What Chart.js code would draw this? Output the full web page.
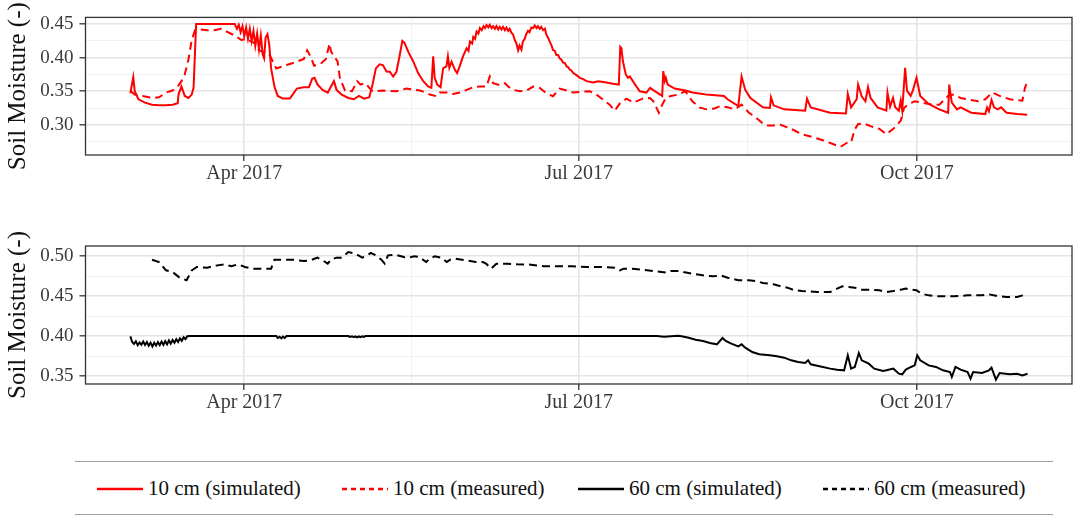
<!DOCTYPE html>
<html>
<head>
<meta charset="utf-8">
<title>Soil Moisture 2017</title>
<script src="https://cdn.jsdelivr.net/npm/chart.js@4.4.0/dist/chart.umd.min.js"></script>
<style>
  html, body { margin: 0; padding: 0; background: #fff; }
  #page { position: relative; width: 1084px; height: 521px; overflow: hidden; font-family: 'Liberation Serif', 'DejaVu Serif', serif; }
  #top { position: absolute; left: 0; top: 0; }
  #bottom { position: absolute; left: 0; top: 200px; }
  #legend { position: absolute; left: 75px; top: 461px; width: 978px; height: 52px;
            border-top: 1.5px solid #a0a0a0; border-bottom: 1.5px solid #a0a0a0; }
  .key { position: absolute; top: 24px; }
  .lab { position: absolute; top: 14px; font-size: 21px; color: #111; white-space: nowrap; }
</style>
</head>
<body>
<div id="page">
  <canvas id="top" width="1084" height="200"></canvas>
  <canvas id="bottom" width="1084" height="240"></canvas>
  <div id="legend"></div>
</div>
<script>
// x values are days of 2017 (1 Jan = 0)

// 10 cm simulated
const sim10Day = [59.0, 59.8, 60.2, 61.2, 63.0, 64.9, 66.8, 68.7, 70.5, 71.9, 72.1, 72.9, 73.8, 74.8, 75.7, 76.2, 76.9,
  87.4, 88.0, 88.5, 89.0, 89.5, 90.0, 90.5, 91.0, 91.5, 92.0, 92.5, 93.0, 93.5, 94.0, 94.5, 95.0, 95.4, 95.8, 96.3, 96.8,
  97.3, 98.2, 99.1, 100.5, 102.4, 103.3, 104.3, 106.2, 107.6, 108.5, 109.1, 109.9, 111.3, 112.7, 113.6, 114.4, 115.1,
  116.5, 118.3, 119.8, 121.2, 122.6, 124.0, 124.9, 125.8, 126.8, 127.7, 128.7, 129.6, 130.5, 131.4, 132.3, 133.0, 133.6,
  134.6, 136.0, 137.3, 138.7, 140.0, 140.9, 141.4, 141.8, 142.5, 143.4, 144.1, 145.0, 145.4, 145.8, 146.4, 147.3, 147.9,
  148.6, 149.5, 150.5, 151.0, 151.4, 152.0, 152.3, 152.8, 153.2, 153.7, 154.1, 154.6, 155.1, 155.5, 155.9, 156.4, 156.8,
  157.3, 157.7, 158.2, 158.6, 159.1, 159.5, 160.0, 160.4, 160.9, 161.3, 161.8, 162.2, 162.7, 163.1, 163.6, 164.0, 164.5,
  164.9, 165.4, 165.8, 166.3, 166.7, 167.2, 167.6, 168.1, 168.6, 169.0, 169.5, 169.9, 170.4, 170.8, 171.3, 171.8, 172.2,
  172.7, 173.1, 173.6, 174.0, 174.5, 174.9, 175.4, 175.8, 176.3, 176.7, 177.2, 177.7, 178.1, 178.6, 179.0, 179.5, 180.4,
  181.3, 182.2, 183.1, 184.9, 186.3, 188.5, 190.3, 191.9, 192.3, 192.6, 193.0, 193.8, 194.4, 194.9, 196.2, 197.6,
  199.4, 200.4, 202.3, 203.7, 204.0, 204.4, 204.7, 205.2, 207.1, 210.0, 211.9, 215.7, 220.5, 221.5, 224.4, 225.3, 226.3,
  227.7, 231.1, 233.0, 233.3, 234.0, 236.9, 242.6, 243.1, 244.1, 249.4, 253.7, 254.2, 255.1, 256.6, 257.0, 258.0, 259.0,
  259.7, 260.4, 262.3, 264.7, 265.0, 265.7, 266.5, 267.1, 268.1, 268.6, 269.0, 269.8, 270.3, 271.3, 271.9, 272.9, 273.9,
  276.2, 279.1, 281.5, 281.8, 282.5, 283.9, 284.9, 287.8, 291.6, 292.1, 292.6, 293.3, 294.0, 295.0, 295.9, 297.4, 300.3, 303.0];
const sim10 = [0.347, 0.371, 0.350, 0.338, 0.333, 0.330, 0.329, 0.329, 0.330, 0.332, 0.345, 0.357, 0.343, 0.340, 0.345, 0.355, 0.450,
  0.450, 0.443, 0.449, 0.438, 0.447, 0.432, 0.445, 0.428, 0.443, 0.425, 0.440, 0.418, 0.436, 0.412, 0.433, 0.405, 0.399, 0.430, 0.435, 0.419,
  0.384, 0.357, 0.343, 0.339, 0.339, 0.346, 0.354, 0.356, 0.356, 0.369, 0.370, 0.360, 0.352, 0.348, 0.357, 0.365, 0.352,
  0.345, 0.340, 0.338, 0.343, 0.339, 0.341, 0.360, 0.384, 0.390, 0.389, 0.3795, 0.379, 0.372, 0.379, 0.404, 0.425, 0.422,
  0.409, 0.394, 0.377, 0.365, 0.357, 0.355, 0.402, 0.370, 0.360, 0.356, 0.384, 0.387, 0.402, 0.385, 0.394, 0.382, 0.377,
  0.387, 0.402, 0.414, 0.410, 0.424, 0.421, 0.431, 0.428, 0.439, 0.436, 0.444, 0.441, 0.447, 0.444, 0.4485, 0.445, 0.449,
  0.444, 0.447, 0.443, 0.447, 0.442, 0.446, 0.442, 0.446, 0.441, 0.445, 0.440, 0.443, 0.437, 0.435, 0.426, 0.422, 0.411,
  0.418, 0.412, 0.424, 0.428, 0.435, 0.440, 0.438, 0.445, 0.444, 0.448, 0.444, 0.447, 0.443, 0.446, 0.441, 0.443, 0.434,
  0.429, 0.424, 0.418, 0.4115, 0.410, 0.404, 0.404, 0.399, 0.397, 0.393, 0.392, 0.387, 0.386, 0.382, 0.381, 0.377, 0.374,
  0.370, 0.368, 0.365, 0.363, 0.365, 0.363, 0.361, 0.360, 0.416, 0.414, 0.395, 0.375, 0.370, 0.372, 0.361, 0.350,
  0.348, 0.355, 0.348, 0.343, 0.380, 0.365, 0.370, 0.360, 0.354, 0.351, 0.348, 0.345, 0.343, 0.338, 0.328, 0.372, 0.352,
  0.340, 0.326, 0.325, 0.341, 0.329, 0.323, 0.321, 0.339, 0.326, 0.318, 0.317, 0.346, 0.326, 0.338, 0.360, 0.342, 0.335,
  0.356, 0.340, 0.326, 0.321, 0.348, 0.327, 0.340, 0.326, 0.321, 0.336, 0.321, 0.385, 0.351, 0.343, 0.351, 0.370, 0.343,
  0.331, 0.323, 0.318, 0.360, 0.333, 0.323, 0.326, 0.318, 0.316, 0.326, 0.320, 0.337, 0.326, 0.323, 0.326, 0.318, 0.316, 0.315];

// 10 cm measured
const meas10Day = [59.1, 60.2, 64.9, 66.8, 68.7, 70.5, 71.9, 72.9, 73.8, 74.8, 75.7, 76.6, 78.0, 79.9, 81.8, 83.7, 85.5,
  87.4, 89.3, 90.2, 91.2, 93.0, 94.0, 96.8, 98.7, 101.5, 104.3, 106.2, 107.1, 108.0, 109.0, 110.8, 112.2, 113.2, 113.6,
  114.8, 115.4, 116.0, 117.4, 119.3, 120.7, 121.6, 123.0, 124.0, 124.9, 127.7, 131.4, 134.1, 137.8, 139.6, 140.5, 142.3,
  143.2, 145.0, 146.8, 148.6, 150.5, 152.3, 154.1, 155.9, 156.8, 157.7, 159.5, 160.9, 161.8, 163.2, 165.0, 166.8, 168.6,
  170.4, 172.2, 174.0, 175.8, 177.7, 179.5, 181.3, 184.0, 185.8, 187.6, 189.4, 190.8, 192.2, 194.0, 195.8, 198.4, 200.4,
  201.3, 202.8, 203.7, 204.7,
  206.1, 208.0, 210.0, 211.9, 213.8, 215.7, 217.7, 219.6, 221.5, 223.4, 225.3, 227.3, 229.2, 231.1, 232.1, 234.0, 235.9,
  238.8, 241.7, 244.5, 247.4, 250.3, 252.2, 254.2, 255.1, 256.1, 257.0, 259.0, 260.9, 262.8, 264.7, 266.6, 268.6, 269.5,
  270.5, 272.4, 274.3, 277.2, 279.1, 281.5, 283.0, 284.9, 286.8, 289.7, 291.6, 293.5, 295.5, 298.3, 301.7, 302.4, 303.1];
const meas10 = [0.350, 0.345, 0.340, 0.341, 0.348, 0.351, 0.357, 0.365, 0.375, 0.397, 0.426, 0.441, 0.442, 0.441, 0.441, 0.443, 0.438,
  0.433, 0.426, 0.428, 0.426, 0.421, 0.411, 0.405, 0.384, 0.389, 0.394, 0.398, 0.411, 0.402, 0.388, 0.391, 0.398, 0.421, 0.409,
  0.399, 0.394, 0.370, 0.351, 0.350, 0.365, 0.360, 0.362, 0.355, 0.350, 0.351, 0.350, 0.354, 0.351, 0.3475, 0.345, 0.3425,
  0.348, 0.348, 0.346, 0.348, 0.352, 0.356, 0.357, 0.357, 0.372, 0.362, 0.359, 0.362, 0.357, 0.352, 0.350, 0.351, 0.357,
  0.355, 0.347, 0.3425, 0.354, 0.351, 0.348, 0.349, 0.350, 0.345, 0.3375, 0.330, 0.321, 0.332, 0.339, 0.333, 0.339, 0.340,
  0.335, 0.318, 0.330, 0.340,
  0.343, 0.345, 0.350, 0.335, 0.326, 0.323, 0.324, 0.328, 0.326, 0.323, 0.330, 0.318, 0.311, 0.302, 0.299, 0.299, 0.300,
  0.294, 0.286, 0.282, 0.277, 0.271, 0.267, 0.274, 0.274, 0.293, 0.301, 0.301, 0.297, 0.294, 0.286, 0.294, 0.306, 0.325,
  0.330, 0.335, 0.333, 0.330, 0.330, 0.343, 0.345, 0.340, 0.338, 0.335, 0.338, 0.348, 0.343, 0.338, 0.336, 0.355, 0.365];

// 60 cm simulated
const sim60Day = [59.0, 59.5, 60.0, 60.5, 61.0, 61.5, 62.0, 62.5, 63.0, 63.5, 64.0, 64.5, 65.0, 65.5, 66.0, 66.5, 67.0,
  67.5, 68.0, 68.5, 69.0, 69.5, 70.0, 70.5, 71.0, 71.5, 72.0, 72.5, 73.0, 73.5, 74.0, 74.5, 75.2, 98.7, 99.1, 99.6, 100.1,
  100.5, 101.0, 101.5, 118.3, 118.8, 119.3, 119.8, 120.2, 120.7, 121.2, 121.6, 122.1, 122.6, 123.0, 202.3, 204.2, 206.1,
  208.0, 209.0, 210.9, 212.8, 214.8, 216.7, 218.6, 220.1, 221.0, 222.5, 224.4, 225.3, 226.3, 228.2, 230.1, 233.0, 234.9,
  236.9, 238.8, 240.7, 242.6, 243.4, 244.1, 246.5, 249.4, 251.3, 253.2, 254.2, 255.1, 256.1, 257.2, 258.0, 259.9, 261.4,
  263.8, 264.7, 266.6, 268.1, 269.0, 270.0, 271.4, 272.4, 273.1, 273.9, 276.2, 278.2, 280.1, 282.0, 282.5, 283.5, 284.9,
  286.8, 287.6, 288.3, 290.7, 292.6, 293.3, 294.5, 295.5, 298.3, 300.3, 301.7, 303.1];
const sim60 = [0.3996, 0.3925, 0.3900, 0.3935, 0.3885, 0.3920, 0.3890, 0.3930, 0.3888, 0.3925, 0.3878, 0.3915, 0.3868, 0.3915, 0.3880, 0.3925, 0.3885,
  0.3930, 0.3890, 0.3935, 0.3895, 0.3945, 0.3905, 0.3950, 0.3915, 0.3960, 0.3925, 0.3970, 0.3940, 0.3985, 0.3960, 0.3998, 0.4000, 0.4000, 0.3975, 0.3990, 0.3970,
  0.3992, 0.3975, 0.4000, 0.4000, 0.3988, 0.3995, 0.3985, 0.3995, 0.3982, 0.3995, 0.3985, 0.3995, 0.3988, 0.4000, 0.4000, 0.3990, 0.3996,
  0.4003, 0.3996, 0.3979, 0.3954, 0.3938, 0.3913, 0.3896, 0.3975, 0.3938, 0.3904, 0.3871, 0.3896, 0.3854, 0.3800, 0.3771, 0.3758, 0.3746,
  0.3729, 0.3696, 0.3675, 0.3663, 0.3696, 0.3646, 0.3621, 0.3592, 0.3579, 0.3571, 0.3758, 0.3592, 0.3613, 0.3788, 0.3696, 0.3654, 0.3592,
  0.3563, 0.3571, 0.3592, 0.3529, 0.3521, 0.3580, 0.3613, 0.3633, 0.3758, 0.3696, 0.3633, 0.3613, 0.3571, 0.3550, 0.3488, 0.3613, 0.3579,
  0.3550, 0.3467, 0.3550, 0.3538, 0.3571, 0.3604, 0.3454, 0.3538, 0.3521, 0.3529, 0.3508, 0.3529];

// 60 cm measured
const meas60Day = [64.9, 66.8, 68.7, 70.5, 72.4, 74.3, 75.7, 77.1, 79.9, 82.7, 84.6, 86.5, 88.3, 90.2, 92.1, 94.9, 97.3,
  98.2, 100.5, 103.3, 106.2, 108.0, 109.9, 111.3, 112.7, 113.6, 115.1, 116.5, 118.3, 120.2, 122.1, 123.5, 124.4, 125.8,
  127.3, 128.2, 129.1, 131.0, 133.4, 134.8, 136.2, 137.6, 139.5, 140.4, 141.8, 143.7, 145.1, 146.0, 147.4, 150.2, 153.0,
  154.9, 155.8, 157.2, 158.6, 161.5, 164.3, 168.0, 171.5, 175.4, 179.2, 183.1, 186.9, 190.8, 192.2, 193.2, 195.6, 198.4,
  201.3, 204.7, 206.1, 208.5, 209.5, 211.9, 214.8, 217.7, 219.6, 221.5, 224.4, 227.3, 229.2, 231.1, 234.0, 235.9, 237.8,
  239.7, 241.7, 243.6, 246.0, 249.4, 251.3, 252.7, 254.2, 256.1, 258.0, 259.9, 262.8, 264.7, 266.6, 268.6, 270.0, 271.4,
  272.9, 274.3, 276.2, 279.1, 283.0, 286.8, 290.7, 292.6, 294.5, 297.4, 300.3, 301.7, 302.7];
const meas60 = [0.4954, 0.4925, 0.4821, 0.4800, 0.4729, 0.4696, 0.4821, 0.4863, 0.4854, 0.4883, 0.4896, 0.4871, 0.4896, 0.4863, 0.4842, 0.4842, 0.4842,
  0.4954, 0.4954, 0.4954, 0.4938, 0.4946, 0.4979, 0.4946, 0.4904, 0.4954, 0.4979, 0.4979, 0.5050, 0.5029, 0.4979, 0.5008, 0.5038, 0.5008,
  0.4954, 0.4904, 0.5008, 0.5017, 0.4988, 0.4979, 0.4996, 0.4988, 0.4925, 0.4967, 0.4996, 0.4979, 0.4925, 0.4954, 0.4967, 0.4946, 0.4925,
  0.4925, 0.4904, 0.4842, 0.4904, 0.4904, 0.4896, 0.4892, 0.4871, 0.4871, 0.4871, 0.4863, 0.4863, 0.4854, 0.4821, 0.4842, 0.4842, 0.4829,
  0.4813, 0.4792, 0.4813, 0.4813, 0.4800, 0.4779, 0.4758, 0.4746, 0.4758, 0.4729, 0.4696, 0.4696, 0.4688, 0.4663, 0.4646, 0.4621, 0.4604,
  0.4571, 0.4563, 0.4558, 0.4550, 0.4550, 0.4592, 0.4621, 0.4613, 0.4604, 0.4579, 0.4579, 0.4571, 0.4550, 0.4563, 0.4579, 0.4592, 0.4579,
  0.4571, 0.4529, 0.4508, 0.4496, 0.4496, 0.4508, 0.4508, 0.4521, 0.4504, 0.4488, 0.4488, 0.4508, 0.4538];

const seriesLabels = ['10 cm (simulated)', '10 cm (measured)', '60 cm (simulated)', '60 cm (measured)'];
const seriesColors = ['#ff0000', '#ff0000', '#000000', '#000000'];
const seriesDashed = [false, true, false, true];

const xTickDays = [90, 181, 273];
const xTickLabels = ['Apr 2017', 'Jul 2017', 'Oct 2017'];
const xMinorDays = [135.5, 227];
const topYTicks = [0.275, 0.30, 0.325, 0.35, 0.375, 0.40, 0.425, 0.45];
const bottomYTicks = [0.35, 0.375, 0.40, 0.425, 0.45, 0.475, 0.50];

Chart.defaults.font.family = "'Liberation Serif', 'DejaVu Serif', serif";

const pts = (days, vals) => days.map((d, i) => ({ x: d, y: vals[i] }));
const isMajorY = v => Math.abs(v * 20 - Math.round(v * 20)) < 1e-6;
const isMajorX = v => xTickDays.includes(v);

function dataset(i, days, vals) {
  return {
    label: seriesLabels[i],
    data: pts(days, vals),
    borderColor: seriesColors[i],
    borderWidth: 2,
    borderDash: seriesDashed[i] ? [8, 5] : [],
    pointRadius: 0,
    tension: 0
  };
}

// theme_bw style panel border
const frame = {
  id: 'frame',
  afterDraw(chart) {
    const { ctx, chartArea: a } = chart;
    ctx.save();
    ctx.strokeStyle = '#333333';
    ctx.lineWidth = 1.3;
    ctx.strokeRect(a.left, a.top, a.right - a.left, a.bottom - a.top);
    ctx.restore();
  }
};

function panel(id, sets, yMin, yMax, yTicks, padTop, xHeight) {
  return new Chart(document.getElementById(id), {
    type: 'line',
    data: { datasets: sets },
    options: {
      responsive: false,
      animation: false,
      layout: { padding: { top: padTop, right: 12, left: 0, bottom: 0 } },
      plugins: { legend: { display: false }, tooltip: { enabled: false } },
      scales: {
        x: {
          type: 'linear',
          min: 46.8,
          max: 315.2,
          afterBuildTicks: s => {
            s.ticks = xTickDays.concat(xMinorDays).sort((a, b) => a - b).map(v => ({ value: v }));
          },
          afterFit: s => { s.height = xHeight; },
          ticks: {
            autoSkip: false, maxRotation: 0, padding: 1,
            color: '#3a3a3a', font: { size: 20 },
            callback: v => { const i = xTickDays.indexOf(v); return i < 0 ? '' : xTickLabels[i]; }
          },
          grid: {
            color: c => isMajorX(c.tick.value) ? '#e4e4e4' : '#efefef',
            lineWidth: c => isMajorX(c.tick.value) ? 1.6 : 0.9,
            tickLength: 6,
            tickColor: c => isMajorX(c.tick.value) ? '#333333' : 'rgba(0,0,0,0)',
            tickWidth: 1.3
          },
          border: { display: false }
        },
        y: {
          min: yMin,
          max: yMax,
          afterBuildTicks: s => { s.ticks = yTicks.map(v => ({ value: v })); },
          afterFit: s => { s.width = 85.5; },
          ticks: {
            autoSkip: false, padding: 6,
            color: '#3a3a3a', font: { size: 19 },
            callback: v => isMajorY(v) ? v.toFixed(2) : ''
          },
          grid: {
            color: c => isMajorY(c.tick.value) ? '#e4e4e4' : '#efefef',
            lineWidth: c => isMajorY(c.tick.value) ? 1.6 : 0.9,
            tickLength: 6,
            tickColor: c => isMajorY(c.tick.value) ? '#333333' : 'rgba(0,0,0,0)',
            tickWidth: 1.3
          },
          border: { display: false },
          title: {
            display: true, text: 'Soil Moisture (-)', color: '#111',
            font: { size: 25 }, padding: { top: 3, bottom: 0 }
          }
        }
      }
    },
    plugins: [frame]
  });
}

panel('top', [dataset(0, sim10Day, sim10), dataset(1, meas10Day, meas10)],
  0.255, 0.46, topYTicks, 16, 45);
panel('bottom', [dataset(2, sim60Day, sim60), dataset(3, meas60Day, meas60)],
  0.34, 0.5125, bottomYTicks, 46, 56);

// shared legend under both panels
const keyLeft = [22, 267, 503, 748];
const legend = document.getElementById('legend');
seriesLabels.forEach((label, i) => {
  const svg = document.createElementNS('http://www.w3.org/2000/svg', 'svg');
  svg.setAttribute('class', 'key');
  svg.setAttribute('width', '46');
  svg.setAttribute('height', '6');
  svg.style.left = keyLeft[i] + 'px';
  const ln = document.createElementNS('http://www.w3.org/2000/svg', 'line');
  ln.setAttribute('x1', '0'); ln.setAttribute('x2', '46');
  ln.setAttribute('y1', '3'); ln.setAttribute('y2', '3');
  ln.setAttribute('stroke', seriesColors[i]);
  ln.setAttribute('stroke-width', '2.5');
  if (seriesDashed[i]) ln.setAttribute('stroke-dasharray', '5 4');
  svg.appendChild(ln);
  legend.appendChild(svg);
  const t = document.createElement('div');
  t.className = 'lab';
  t.style.left = (keyLeft[i] + 51) + 'px';
  t.textContent = label;
  legend.appendChild(t);
});
</script>
</body>
</html>
